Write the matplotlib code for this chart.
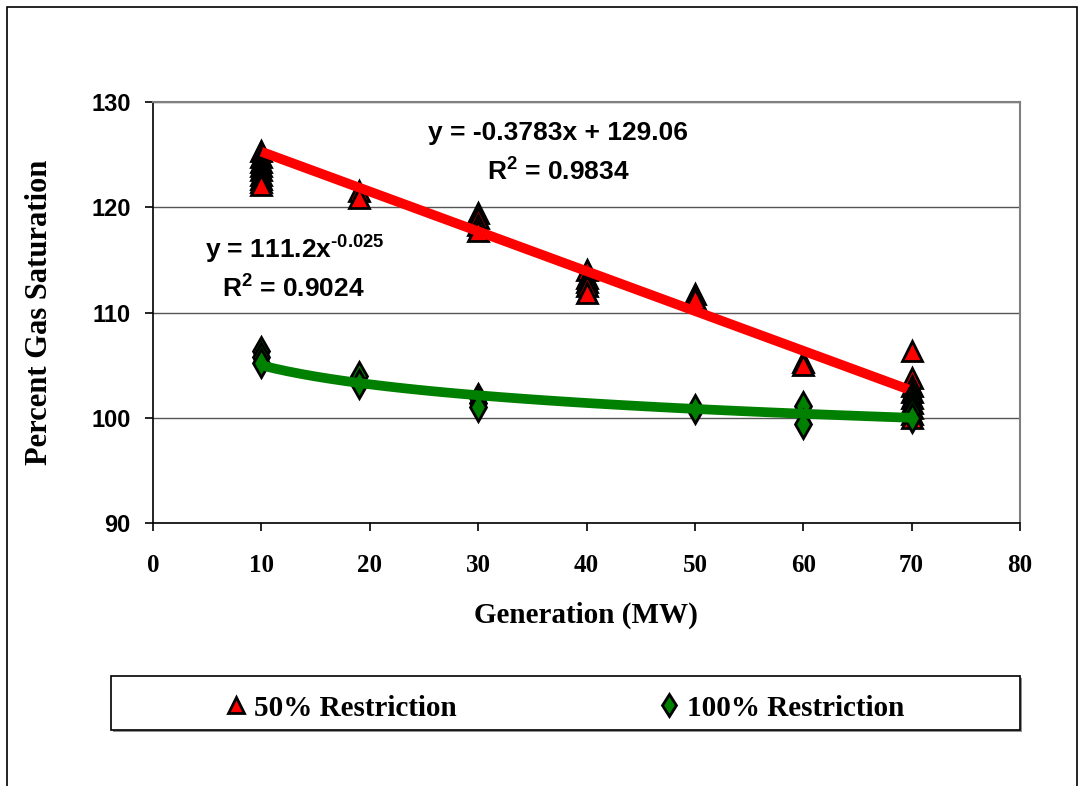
import numpy as np
import matplotlib
matplotlib.use('Agg')
from matplotlib import pyplot as plt
from matplotlib.patches import Rectangle

# data
gen_50 = [10, 10, 10, 10, 10, 10, 10, 10, 10,
          19, 19,
          30, 30, 30, 30,
          40, 40, 40, 40, 40,
          50, 50,
          60, 60,
          70, 70, 70, 70, 70, 70, 70, 70, 70]
sat_50 = [125.3, 124.8, 124.3, 123.9, 123.5, 123.1, 122.7, 122.4, 122.1,
          121.5, 120.9,
          119.5, 119.0, 118.3, 117.7,
          114.0, 113.3, 112.9, 112.5, 111.9,
          111.8, 111.3,
          105.3, 105.0,
          106.3, 103.8, 103.0, 102.4, 101.9, 101.4, 100.9, 100.4, 100.0]

gen_100 = [10, 10, 10,
           19, 19,
           30, 30, 30,
           50,
           60, 60,
           70, 70, 70, 70, 70]
sat_100 = [106.3, 105.8, 105.2,
           104.0, 103.2,
           101.9, 101.4, 101.0,
           100.8,
           101.1, 99.4,
           102.0, 101.5, 101.0, 100.5, 100.0]

# trendline coefficients (from the chart)
lin_slope, lin_icept = -0.3783, 129.06
pow_a, pow_b = 111.2, -0.025

sans = ['Liberation Sans', 'DejaVu Sans']
serif = ['Liberation Serif', 'DejaVu Serif']
plt.rcParams['mathtext.fontset'] = 'custom'
plt.rcParams['mathtext.bf'] = 'Liberation Sans:bold'
plt.rcParams['mathtext.rm'] = 'Liberation Sans:bold'
plt.rcParams['mathtext.it'] = 'Liberation Sans:bold'

W, H = 1080, 786
fig = plt.figure(figsize=(10.8, 7.86), dpi=100)
ax = fig.add_axes([153 / W, 1 - 523 / H, (1020 - 153) / W, (523 - 102) / H])

# outer chart border
fig.patches.append(Rectangle((7 / W, -0.05), (1077 - 7) / W, 1.05 - 7 / H,
                             transform=fig.transFigure, fill=False,
                             edgecolor='black', lw=1.2, zorder=0))

ax.plot(gen_50, sat_50, linestyle='none', marker='^', markersize=14,
        markerfacecolor='#ff0000', markeredgecolor='black', markeredgewidth=2,
        label='50% Restriction', zorder=3)
xl = np.linspace(10, 70, 50)
ax.plot(xl, lin_slope * xl + lin_icept, color='#ff0000', lw=7, zorder=4,
        solid_capstyle='butt')

ax.plot(gen_100, sat_100, linestyle='none', marker='d', markersize=14,
        markerfacecolor='#008000', markeredgecolor='black', markeredgewidth=2,
        label='100% Restriction', zorder=5)
ax.plot(xl, pow_a * xl ** pow_b, color='#008000', lw=7, zorder=6,
        solid_capstyle='butt')

ax.set_xlim(0, 80)
ax.set_ylim(90, 130)
ax.set_xticks(range(0, 81, 10))
ax.set_yticks(range(90, 131, 10))
ax.yaxis.grid(True, color='#555555', lw=1)
ax.set_axisbelow(True)
for s in ['top', 'right']:
    ax.spines[s].set_color('#808080')
    ax.spines[s].set_linewidth(1.5)
for s in ['left', 'bottom']:
    ax.spines[s].set_color('black')
    ax.spines[s].set_linewidth(1.2)
ax.tick_params(direction='out', length=6, width=1.2, color='black')
ax.tick_params(axis='x', pad=16)
ax.tick_params(axis='y', pad=10)
for t in ax.get_xticklabels():
    t.set_fontfamily(serif)
    t.set_fontweight('bold')
    t.set_fontsize(18)
for t in ax.get_yticklabels():
    t.set_fontfamily(sans)
    t.set_fontweight('bold')
    t.set_fontsize(17)

fig.text(40 / W, 1 - 312 / H, 'Percent Gas Saturation', rotation=90,
         ha='center', va='center', family=serif, weight='bold', fontsize=22)
fig.text(586 / W, 1 - 615 / H, 'Generation (MW)', ha='center', va='center',
         family=serif, weight='bold', fontsize=21)

# trendline equations
eq_kw = dict(va='center', family=sans, weight='bold', fontsize=19)
fig.text(428 / W, 1 - 133 / H, 'y = -0.3783x + 129.06', ha='left', **eq_kw)
fig.text(487 / W, 1 - 172 / H, r'R$^{\text{2}}$ = 0.9834', ha='left', **eq_kw)
fig.text(205 / W, 1 - 250 / H, r'y = 111.2x$^{\text{-0.025}}$', ha='left', **eq_kw)
fig.text(222 / W, 1 - 289 / H, r'R$^{\text{2}}$ = 0.9024', ha='left', **eq_kw)

# legend box with shadow
fig.patches.append(Rectangle((113 / W, 1 - 732 / H), (1020 - 111) / W, 54 / H,
                             transform=fig.transFigure, facecolor='#909090',
                             edgecolor='none', zorder=1))
fig.patches.append(Rectangle((111 / W, 1 - 730 / H), (1020 - 111) / W, 54 / H,
                             transform=fig.transFigure, facecolor='white',
                             edgecolor='black', lw=1.2, zorder=2))
leg = fig.legend(loc='center', ncol=2, mode='expand', frameon=False,
                 bbox_to_anchor=(210 / W, 1 - 735 / H, (916 - 210) / W, 54 / H),
                 prop={'family': serif, 'weight': 'bold', 'size': 21},
                 handletextpad=0.1, handlelength=1.0, borderaxespad=0,
                 markerscale=0.8)
leg.set_zorder(3)

fig.savefig('out.png', dpi=100)
